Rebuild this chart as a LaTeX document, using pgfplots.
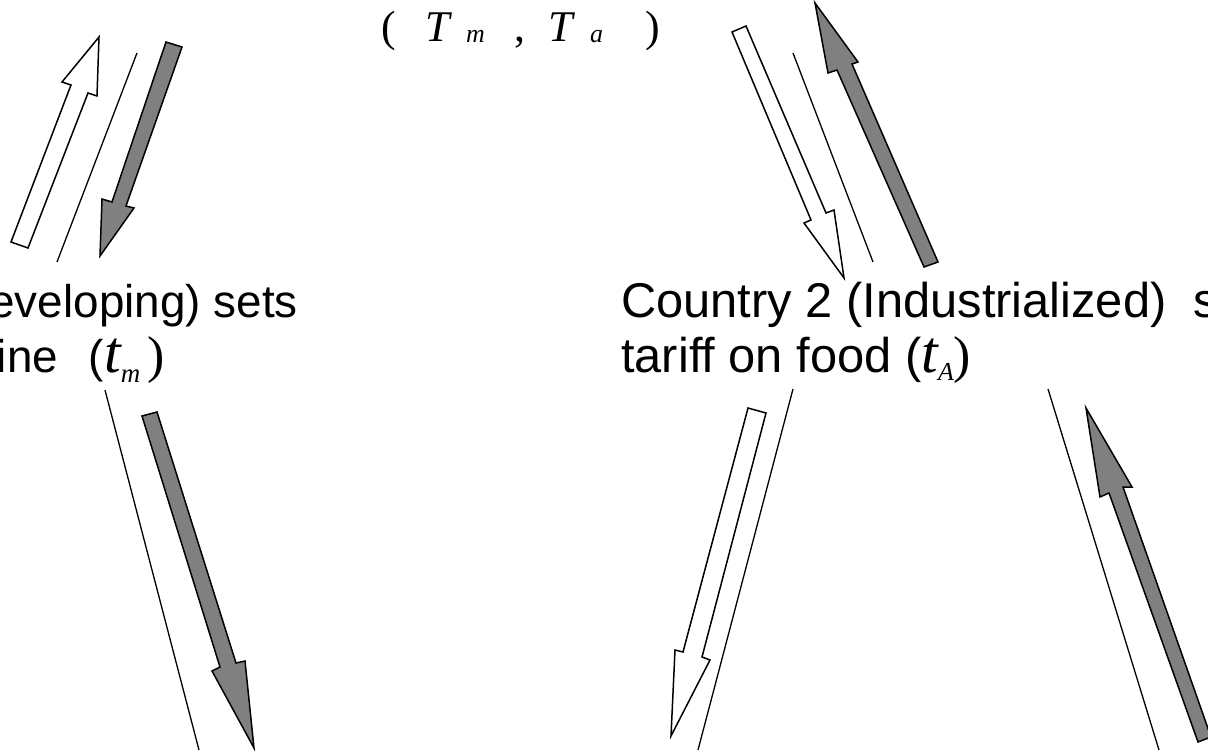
\documentclass[border=0pt]{standalone}
\usepackage{pgfplots}
\pgfplotsset{compat=1.18}
\usepackage{fontspec}
\setmainfont{Liberation Sans}
\newfontfamily\tms{Liberation Serif}
\definecolor{arrgray}{HTML}{808080}
\begin{document}
\begin{tikzpicture}
\begin{axis}[width=1208bp,height=752bp,scale only axis,
  xmin=0,xmax=1208,ymin=0,ymax=752,y dir=reverse,hide axis,clip=false]
% thin separator lines
\addplot[black,line width=1.3bp] coordinates {(137,53) (57,262)};
\addplot[black,line width=1.3bp] coordinates {(793,53) (873,262)};
\addplot[black,line width=1.3bp] coordinates {(105,390) (199,750)};
\addplot[black,line width=1.3bp] coordinates {(793,389) (698,750)};
\addplot[black,line width=1.3bp] coordinates {(1048,389) (1159,750)};
% arrows
\addplot[draw=black,fill=white,line width=1.5bp,line join=miter] coordinates {(11,242) (71,85) (62,82) (99,37) (97,96) (88,93) (28,248)} -- cycle;
\addplot[draw=black,fill=arrgray,line width=1.5bp,line join=miter] coordinates {(166,42) (112,202) (102,199) (100,256) (134,208) (126,206) (182,47)} -- cycle;
\addplot[draw=black,fill=white,line width=1.5bp,line join=miter] coordinates {(732,32) (811,220) (804,223) (844,278) (834,210) (826,213) (746,26)} -- cycle;
\addplot[draw=black,fill=arrgray,line width=1.5bp,line join=miter] coordinates {(924,267) (837,70) (828,73) (815,3) (858,62) (852,64) (938,262)} -- cycle;
\addplot[draw=black,fill=arrgray,line width=1.5bp,line join=miter] coordinates {(142,416) (220,667) (212,671) (254,748) (245,661) (236,663) (157,412)} -- cycle;
\addplot[draw=black,fill=white,line width=1.5bp,line join=miter] coordinates {(748,408) (683,652) (675,650) (671,736) (710,660) (702,657) (766,413)} -- cycle;
\addplot[draw=black,fill=arrgray,line width=1.5bp,line join=miter] coordinates {(1086,408) (1132,487) (1123,487) (1211,737) (1198,742) (1109,493) (1100,497)} -- cycle;
% texts
\node[anchor=base east,inner sep=0,font=\fontsize{46}{55}\selectfont] at (axis cs:298,317) {Country 1 (Developing) sets};
\node[anchor=base west,inner sep=0,font=\fontsize{46}{55}\selectfont] at (axis cs:-280,372) {tariff on machine\hspace{18bp} ({\tms\itshape\fontsize{60}{60}\selectfont t}\raisebox{-10bp}{\tms\itshape\fontsize{27}{28}\selectfont m}\,{\tms\fontsize{52}{55}\selectfont )}};
\node[anchor=base west,inner sep=0,font=\fontsize{49}{55}\selectfont] at (axis cs:621,317) {Country 2 (Industrialized)\ \ sets};
\node[anchor=base west,inner sep=0,font=\fontsize{49}{55}\selectfont] at (axis cs:621,372) {tariff on food ({\tms\itshape\fontsize{60}{60}\selectfont t}\raisebox{-8bp}{\tms\itshape\fontsize{26}{28}\selectfont A}{\tms\fontsize{52}{55}\selectfont )}};
% top formula
\node[anchor=base west,inner sep=0,font=\tms\fontsize{44}{46}\selectfont] at (axis cs:381,42) {(};
\node[anchor=base west,inner sep=0,font=\tms\itshape\fontsize{44}{46}\selectfont] at (axis cs:425,42) {T};
\node[anchor=base west,inner sep=0,font=\tms\itshape\fontsize{26}{28}\selectfont] at (axis cs:466,43) {m};
\node[anchor=base west,inner sep=0,font=\tms\fontsize{44}{46}\selectfont] at (axis cs:514,42) {,};
\node[anchor=base west,inner sep=0,font=\tms\itshape\fontsize{44}{46}\selectfont] at (axis cs:548,42) {T};
\node[anchor=base west,inner sep=0,font=\tms\itshape\fontsize{26}{28}\selectfont] at (axis cs:590,43) {a};
\node[anchor=base west,inner sep=0,font=\tms\fontsize{44}{46}\selectfont] at (axis cs:645,42) {)};
\end{axis}
\pgfresetboundingbox
\path[use as bounding box] (current axis.south west) rectangle (current axis.north east);
\end{tikzpicture}
\end{document}
